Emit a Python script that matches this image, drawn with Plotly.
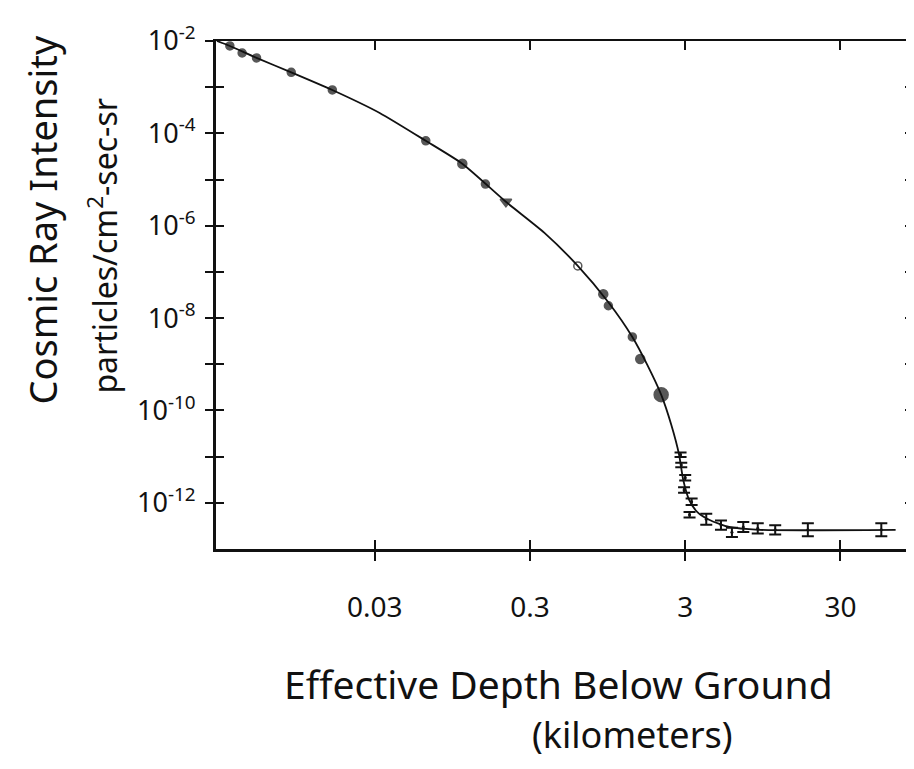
import math
import plotly.graph_objects as go

# ---- data ----
# measured points (dots)
dot_depth_km = [0.0035, 0.0042, 0.0052, 0.0087, 0.016, 0.064, 0.11, 0.155, 0.21,
                0.61, 0.89, 0.96, 1.37, 1.54, 2.10]
dot_intensity = [7.8e-3, 5.5e-3, 4.3e-3, 2.1e-3, 8.7e-4, 6.9e-5, 2.2e-5, 8.0e-6, 3.3e-6,
                 1.35e-7, 3.3e-8, 1.85e-8, 3.9e-9, 1.3e-9, 2.2e-10]
dot_symbol = ["circle", "circle", "circle", "circle", "circle", "circle", "circle",
              "circle", "triangle-down", "circle-open", "circle", "circle", "circle",
              "circle", "circle"]
dot_size = [8, 8, 8, 8, 8, 8, 9, 8, 10, 8, 9, 8, 8, 9, 14]

# measured points with error bars (deep sites)
eb_depth_km = [2.80, 2.83, 3.0, 2.95, 3.3, 3.2, 4.1, 5.1, 6.0, 7.1, 8.8, 11.4, 18.5, 55.0]
eb_intensity = [1.1e-11, 6.6e-12, 3.5e-12, 1.9e-12, 1.05e-12, 5.5e-13, 4.4e-13, 3.3e-13,
                2.3e-13, 3.0e-13, 2.8e-13, 2.6e-13, 2.6e-13, 2.6e-13]
eb_err_decades = [0.05, 0.05, 0.06, 0.06, 0.07, 0.06, 0.12, 0.10, 0.10, 0.11, 0.11, 0.10,
                  0.14, 0.14]

# hand-drawn fit curve
curve_depth_km = [0.00289, 0.0035, 0.0052, 0.0087, 0.016, 0.0323, 0.064, 0.11, 0.21,
                  0.372, 0.61, 0.96, 1.37, 1.71, 2.10, 2.44, 2.74, 2.91, 3.18, 3.58,
                  4.28, 5.75, 8.98, 68.0]
curve_intensity = [1.0e-2, 7.8e-3, 4.3e-3, 2.1e-3, 8.7e-4, 2.77e-4, 6.9e-5, 2.2e-5, 3.3e-6,
                   7.0e-7, 1.35e-7, 2.2e-8, 3.9e-9, 9.7e-10, 2.2e-10, 4.9e-11, 1.1e-11,
                   3.2e-12, 1.16e-12, 6.4e-13, 4.3e-13, 3.0e-13, 2.6e-13, 2.6e-13]

x_tick_vals = [0.03, 0.3, 3, 30]
x_tick_text = ["0.03", "0.3", "3", "30"]
y_tick_vals = [1e-2, 1e-3, 1e-4, 1e-5, 1e-6, 1e-7, 1e-8, 1e-9, 1e-10, 1e-11, 1e-12]
y_tick_text = ["10<sup>-2</sup>", "", "10<sup>-4</sup>", "", "10<sup>-6</sup>", "",
               "10<sup>-8</sup>", "", "10<sup>-10</sup>", "", "10<sup>-12</sup>"]

x_range_km = [0.00285, 88.0]
y_range = [1e-13, 1e-2]

# ---- figure ----
xr = [math.log10(v) for v in x_range_km]
yr = [math.log10(v) for v in y_range]

FONT = "Noto Sans"
ink = "#111111"

fig = go.Figure()

fig.add_trace(go.Scatter(x=curve_depth_km, y=curve_intensity, mode="lines",
                         line=dict(color=ink, width=1.8, shape="spline", smoothing=0.6),
                         hoverinfo="skip", showlegend=False))

fig.add_trace(go.Scatter(x=dot_depth_km, y=dot_intensity, mode="markers",
                         marker=dict(color=ink, size=dot_size, symbol=dot_symbol,
                                     line=dict(color=ink, width=1.5)),
                         showlegend=False))

err_plus = [v * (10 ** e - 1) for v, e in zip(eb_intensity, eb_err_decades)]
err_minus = [v * (1 - 10 ** (-e)) for v, e in zip(eb_intensity, eb_err_decades)]
fig.add_trace(go.Scatter(x=eb_depth_km, y=eb_intensity, mode="markers",
                         marker=dict(color=ink, size=3),
                         error_y=dict(type="data", symmetric=False, array=err_plus,
                                      arrayminus=err_minus, color=ink, thickness=2, width=6),
                         showlegend=False))

# dummy traces so the overlay axes (inner ticks, top & right frame) render
for xa, ya in [("x2", "y"), ("x3", "y"), ("x", "y2"), ("x", "y3")]:
    fig.add_trace(go.Scatter(x=[None], y=[None], xaxis=xa, yaxis=ya,
                             showlegend=False, hoverinfo="skip"))

common_x = dict(type="log", range=xr, showgrid=False, zeroline=False,
                tickvals=x_tick_vals, tickcolor=ink, tickwidth=2, ticklen=9)
common_y = dict(type="log", range=yr, showgrid=False, zeroline=False,
                tickvals=y_tick_vals, tickcolor=ink, tickwidth=2, ticklen=8)

fig.update_layout(
    width=906, height=761,
    margin=dict(l=208, r=1, t=33, b=220),
    paper_bgcolor="white", plot_bgcolor="white",
    font=dict(family=FONT, color=ink),
    xaxis=dict(**common_x, ticks="outside", ticktext=x_tick_text, showline=True,
               linecolor=ink, linewidth=3, tickfont=dict(size=28, family=FONT),
               ticklabelstandoff=22),
    xaxis2=dict(**common_x, overlaying="x", anchor="y", side="bottom", ticks="inside",
                showticklabels=False, showline=False),
    xaxis3=dict(**common_x, overlaying="x", anchor="y", side="top", ticks="inside",
                showticklabels=False, showline=True, linecolor=ink, linewidth=2),
    yaxis=dict(**common_y, ticks="outside", ticktext=y_tick_text, showline=True,
               linecolor=ink, linewidth=3, tickfont=dict(size=27, family=FONT),
               ticklabelstandoff=4),
    yaxis2=dict(**common_y, overlaying="y", anchor="x", side="left", ticks="inside",
                showticklabels=False, showline=False),
    yaxis3=dict(**common_y, overlaying="y", anchor="x", side="right", ticks="inside",
                showticklabels=False, showline=True, linecolor=ink, linewidth=1.5),
)

fig.add_annotation(text="Effective Depth Below Ground", xref="paper", yref="paper",
                   x=0.492, y=-0.264, xanchor="center", yanchor="middle", showarrow=False,
                   font=dict(size=39, family=FONT, color=ink))
fig.add_annotation(text="(kilometers)", xref="paper", yref="paper",
                   x=0.598, y=-0.366, xanchor="center", yanchor="middle", showarrow=False,
                   font=dict(size=36, family=FONT, color=ink))
fig.add_annotation(text="Cosmic Ray Intensity", xref="paper", yref="paper",
                   x=-0.25, y=0.648, xanchor="center", yanchor="middle", showarrow=False,
                   textangle=-90, font=dict(size=38, family=FONT, color=ink))
fig.add_annotation(text="particles/cm<sup>2</sup>-sec-sr", xref="paper", yref="paper",
                   x=-0.163, y=0.598, xanchor="center", yanchor="middle", showarrow=False,
                   textangle=-90, font=dict(size=32, family=FONT, color=ink))

fig.write_html("out.html")
